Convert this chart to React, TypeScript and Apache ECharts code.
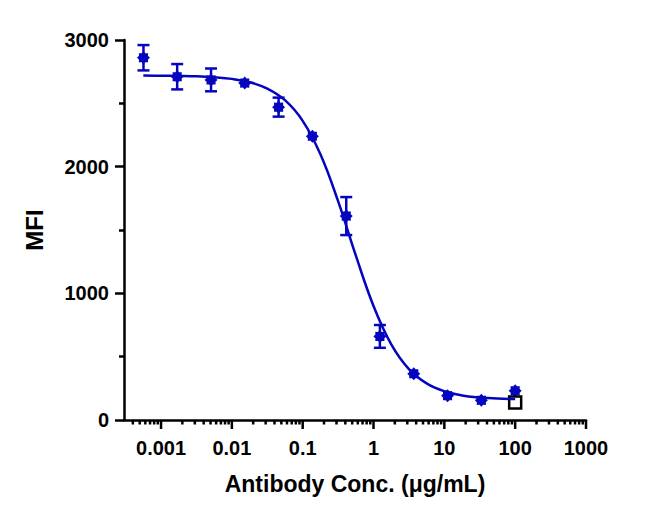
import { useRef, useEffect } from 'react';
import * as echarts from 'echarts';

// concentration series (3-fold dilutions), ug/mL
const conc = [0.000565, 0.00169, 0.00508, 0.0152, 0.0457, 0.137, 0.412, 1.23, 3.7, 11.1, 33.3, 100];
const mfiMean = [2860, 2710, 2685, 2660, 2470, 2240, 1610, 660, 365, 192, 155, 230];
const mfiSd = [100, 100, 90, 0, 75, 0, 150, 90, 0, 0, 0, 0];

// fitted curve
const fitConc = [
  0.000562, 0.001, 0.00178, 0.00316, 0.00562, 0.01, 0.0178, 0.0316, 0.0562, 0.1, 0.178,
  0.316, 0.562, 1, 1.78, 3.16, 5.62, 10, 17.8, 31.6, 56.2, 100,
];
const fitMfi = [
  2719, 2718, 2716, 2713, 2706, 2693, 2667, 2617, 2525, 2362, 2098,
  1728, 1299, 900, 597, 402, 289, 227, 194, 178, 169, 165,
];

// open square (control)
const controlConc = [100];
const controlMfi = [138];

const xMajor = [0.001, 0.01, 0.1, 1, 10, 100, 1000];
const xLabels = ['0.001', '0.01', '0.1', '1', '10', '100', '1000'];
const X_MIN = 0.0003;
const X_MAX = 1000;

const BLUE = '#0505C0';
const FONT = 'Liberation Sans, Arial, sans-serif';

function starPath() {
  const pts: string[] = [];
  for (let i = 0; i < 16; i++) {
    const a = (i * Math.PI) / 8 - Math.PI / 2;
    const r = i % 2 === 0 ? 10 : 7.5;
    pts.push(`${(10 + r * Math.cos(a)).toFixed(2)} ${(10 + r * Math.sin(a)).toFixed(2)}`);
  }
  return 'path://M' + pts.join(' L') + ' Z';
}

function buildTicks() {
  const ticks: [number, number, number][] = [];
  xMajor.forEach((m) => ticks.push([m, 0, 9]));
  [0.0001, ...xMajor.slice(0, -1)].forEach((d) => {
    for (let k = 2; k <= 9; k++) {
      const v = d * k;
      if (v > X_MIN * 1.2 && v < X_MAX) ticks.push([v, 0, 4.5]);
    }
  });
  return ticks;
}

export default function App() {
  const ref = useRef<HTMLDivElement>(null);

  useEffect(() => {
    if (!ref.current) return;
    document.body.style.margin = '0';
    const chart = echarts.init(ref.current, undefined, { renderer: 'svg' });

    const option: echarts.EChartsOption = {
      animation: false,
      grid: { left: 124, right: 70, top: 40, bottom: 100 },
      xAxis: {
        type: 'log',
        logBase: 10,
        min: X_MIN,
        max: X_MAX,
        name: 'Antibody Conc. (μg/mL)',
        nameLocation: 'middle',
        nameGap: 52,
        nameTextStyle: { fontFamily: FONT, fontSize: 23, fontWeight: 'bold', color: '#000' },
        axisLine: { lineStyle: { color: '#000', width: 2.5 } },
        axisTick: { show: false },
        splitLine: { show: false },
        axisLabel: {
          interval: 0,
          margin: 18,
          fontFamily: FONT,
          fontSize: 20,
          fontWeight: 'bold',
          color: '#000',
          formatter: (v: number) => {
            const e = Math.log10(v);
            const r = Math.round(e);
            if (Math.abs(e - r) > 0.01) return '';
            return xLabels[r + 3] ?? '';
          },
        },
      },
      yAxis: {
        type: 'value',
        min: 0,
        max: 3000,
        interval: 1000,
        name: 'MFI',
        nameLocation: 'middle',
        nameGap: 78,
        nameTextStyle: { fontFamily: FONT, fontSize: 24, fontWeight: 'bold', color: '#000' },
        axisLine: { show: true, lineStyle: { color: '#000', width: 2.5 } },
        axisTick: { show: true, length: 9, lineStyle: { color: '#000', width: 2.5 } },
        minorTick: { show: true, splitNumber: 2, length: 5, lineStyle: { color: '#000', width: 2.5 } },
        splitLine: { show: false },
        axisLabel: {
          margin: 15,
          fontFamily: FONT,
          fontSize: 20,
          fontWeight: 'bold',
          color: '#000',
          formatter: (v: number) => String(v),
        },
      },
      series: [
        {
          type: 'custom',
          silent: true,
          clip: false,
          data: buildTicks(),
          encode: { x: 0, y: 1 },
          renderItem: (_p: any, api: any) => {
            const pt = api.coord([api.value(0), 0]);
            const len = api.value(2);
            return {
              type: 'line',
              shape: { x1: pt[0], y1: pt[1], x2: pt[0], y2: pt[1] + len },
              style: { stroke: '#000', lineWidth: 2.5 },
            };
          },
        },
        {
          type: 'line',
          silent: true,
          data: fitConc.map((c, i) => [c, fitMfi[i]]),
          smooth: 0.4,
          showSymbol: false,
          lineStyle: { color: BLUE, width: 2.5 },
        },
        {
          type: 'custom',
          silent: true,
          data: conc.map((c, i) => [c, mfiMean[i], mfiSd[i]]),
          encode: { x: 0, y: 1 },
          renderItem: (_p: any, api: any) => {
            const x = api.value(0);
            const m = api.value(1);
            const e = api.value(2);
            if (!e) return { type: 'group', children: [] };
            const top = api.coord([x, m + e]);
            const bot = api.coord([x, m - e]);
            const w = 6;
            const style = { stroke: BLUE, lineWidth: 2.5 };
            return {
              type: 'group',
              children: [
                { type: 'line', shape: { x1: top[0], y1: top[1], x2: bot[0], y2: bot[1] }, style },
                { type: 'line', shape: { x1: top[0] - w, y1: top[1], x2: top[0] + w, y2: top[1] }, style },
                { type: 'line', shape: { x1: bot[0] - w, y1: bot[1], x2: bot[0] + w, y2: bot[1] }, style },
              ],
            };
          },
        },
        {
          type: 'scatter',
          silent: true,
          data: conc.map((c, i) => [c, mfiMean[i]]),
          symbol: starPath(),
          symbolSize: 13,
          itemStyle: { color: BLUE, opacity: 1 },
        },
        {
          type: 'scatter',
          silent: true,
          data: controlConc.map((c, i) => [c, controlMfi[i]]),
          symbol: 'rect',
          symbolSize: 12,
          itemStyle: { color: '#fff', borderColor: '#000', borderWidth: 2.5, opacity: 1 },
        },
      ],
    };

    chart.setOption(option);
    return () => chart.dispose();
  }, []);

  return <div ref={ref} style={{ width: 656, height: 520 }} />;
}
